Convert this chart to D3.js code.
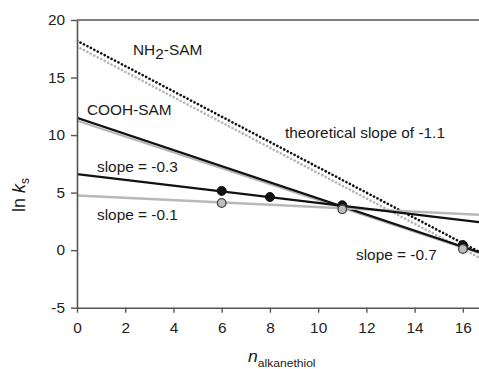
<!DOCTYPE html>
<html><head><meta charset="utf-8">
<script src="https://cdn.jsdelivr.net/npm/d3@7"></script>
<style>
html,body{margin:0;padding:0;background:#fff;}
svg{display:block;font-family:"Liberation Sans",Arial,sans-serif;}
</style></head>
<body>
<svg id="chart" width="479" height="369"></svg>
<script>
// ---- data ----
const xTicks = [0, 2, 4, 6, 8, 10, 12, 14, 16];
const yTicks = [-5, 0, 5, 10, 15, 20];
const xDomain = [0, 16.67];
const yDomain = [-5, 20];

// fitted lines (intercept, slope)
const lineNames = ["theoryGrey", "theoryBlack", "coohGrey", "coohBlack", "slope01", "slope03"];
const lineIntercepts = [17.7, 18.2, 11.25, 11.5, 4.75, 6.6];
const lineSlopes = [-1.1, -1.1, -0.69, -0.7, -0.1, -0.25];
const lineColors = ["#b5b5b5", "#111", "#b5b5b5", "#111", "#b8b8b8", "#111"];
const lineDotted = [true, true, false, false, false, false];

// measured points
const blackX = [6, 8, 11, 16];
const blackY = [5.15, 4.62, 3.9, 0.45];
const greyX = [6, 11, 16];
const greyY = [4.1, 3.55, 0.1];

// annotation texts
const labelTexts = ["COOH-SAM", "theoretical slope of -1.1", "slope = -0.3", "slope = -0.1", "slope = -0.7"];

// ---- drawing ----
const svg = d3.select("#chart");
const mLeft = 77, mRight = 479, mTop = 20, mBottom = 307.7;
const x = d3.scaleLinear().domain(xDomain).range([mLeft, mRight]);
const y = d3.scaleLinear().domain(yDomain).range([mBottom, mTop]);
const sx = 1.1; // horizontal text stretch

svg.append("defs").append("clipPath").attr("id", "clip")
  .append("rect").attr("x", mLeft).attr("y", mTop).attr("width", mRight - mLeft).attr("height", mBottom - mTop);

const plot = svg.append("g").attr("clip-path", "url(#clip)");

lineNames.forEach((n, i) => {
  const pts = [[0, lineIntercepts[i]], [xDomain[1], lineIntercepts[i] + lineSlopes[i] * xDomain[1]]];
  const p = plot.append("path")
    .attr("d", d3.line().x(d => x(d[0])).y(d => y(d[1]))(pts))
    .attr("fill", "none")
    .attr("stroke", lineColors[i]);
  if (lineDotted[i]) {
    p.attr("stroke-width", 2.6).attr("stroke-linecap", "round").attr("stroke-dasharray", "0.1 3.8");
  } else {
    p.attr("stroke-width", n === "slope01" ? 2.6 : 2.2);
  }
});

plot.selectAll("circle.b").data(blackX).enter().append("circle")
  .attr("class", "b")
  .attr("cx", d => x(d)).attr("cy", (d, i) => y(blackY[i])).attr("r", 4.5)
  .attr("fill", "#111").attr("stroke", "#111");
plot.selectAll("circle.g").data(greyX).enter().append("circle")
  .attr("class", "g")
  .attr("cx", d => x(d)).attr("cy", (d, i) => y(greyY[i])).attr("r", 4.3)
  .attr("fill", "#bdbdbd").attr("stroke", "#444").attr("stroke-width", 1.3);

// axes
const axisColor = "#555";
const fmt = d => String(d);
const gy = svg.append("g").attr("transform", `translate(${mLeft},0)`)
  .call(d3.axisLeft(y).tickValues(yTicks).tickFormat(fmt).tickSize(6).tickSizeOuter(0).tickPadding(5));
const gx = svg.append("g").attr("transform", `translate(0,${mBottom})`)
  .call(d3.axisBottom(x).tickValues(xTicks).tickFormat(fmt).tickSize(5).tickSizeOuter(0).tickPadding(10));
[gx, gy].forEach(g => {
  g.select(".domain").attr("stroke", axisColor).attr("stroke-width", 1.6);
  g.selectAll(".tick line").attr("stroke", axisColor).attr("stroke-width", 1.4);
  g.selectAll(".tick text").attr("fill", "#222").attr("font-size", 14)
    .attr("font-family", "'Liberation Sans',Arial,sans-serif")
    .attr("transform", `scale(${sx},1)`);
});
gy.selectAll(".tick text").attr("x", -12 / sx);
// top border
svg.append("line").attr("x1", mLeft).attr("x2", mRight).attr("y1", mTop).attr("y2", mTop)
  .attr("stroke", axisColor).attr("stroke-width", 1.6);

// labels
function label(tx, ty, build) {
  const t = svg.append("text").attr("transform", `translate(${tx},${ty}) scale(${sx},1)`)
    .attr("font-size", 14).attr("fill", "#1a1a1a");
  build(t);
  return t;
}
label(133, 55, t => {
  t.append("tspan").text("NH");
  t.append("tspan").attr("dy", 4).text("2");
  t.append("tspan").attr("dy", -4).text("-SAM");
});
label(87, 115, t => t.text(labelTexts[0]));
label(285, 138, t => t.text(labelTexts[1]));
label(97, 172, t => t.text(labelTexts[2]));
label(97, 220, t => t.text(labelTexts[3]));
label(356, 260, t => t.text(labelTexts[4]));

// x axis title
const xt = svg.append("text").attr("transform", `translate(248,362) scale(${sx},1)`).attr("fill", "#1a1a1a");
xt.append("tspan").attr("font-style", "italic").attr("font-size", 16).text("n");
xt.append("tspan").attr("font-size", 11).attr("dy", 5).text("alkanethiol");

// y axis title
const yt = svg.append("text").attr("transform", `translate(25,212) rotate(-90)`).attr("fill", "#1a1a1a").attr("font-size", 18);
yt.append("tspan").text("ln ");
yt.append("tspan").attr("font-style", "italic").text("k");
yt.append("tspan").attr("font-size", 12).attr("dy", 4).text("s");
</script>
</body></html>
